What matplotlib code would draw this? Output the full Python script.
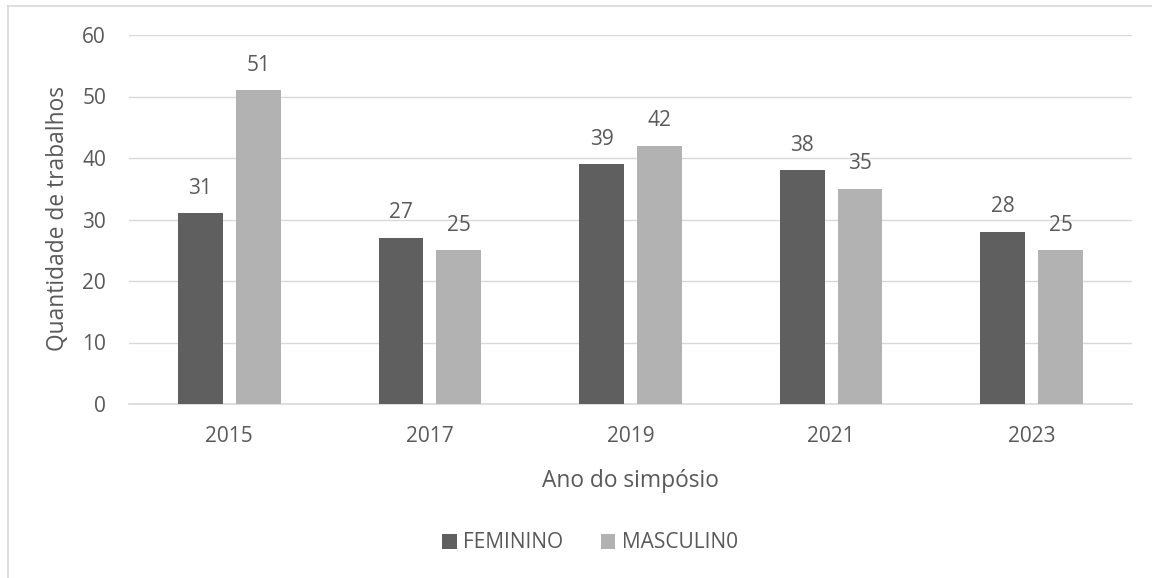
import matplotlib
matplotlib.use("Agg")
import matplotlib.pyplot as plt
import numpy as np

years = ["2015", "2017", "2019", "2021", "2023"]
feminino = [31, 27, 39, 38, 28]
masculino = [51, 25, 42, 35, 25]
series_names = ["FEMININO", "MASCULIN0"]

plt.rcParams['font.family'] = ['Open Sans', 'DejaVu Sans']
txt = '#595959'

fig = plt.figure(figsize=(11.52, 5.78), dpi=100)
W, H = 1152, 578
ax = fig.add_axes([129 / W, 1 - 404 / H, (1132 - 129) / W, (404 - 35) / H])

x = np.arange(len(years))
bw = 0.224
off = 0.144
b1 = ax.bar(x - off, feminino, bw, color='#5f5f5f', label=series_names[0], zorder=3)
b2 = ax.bar(x + off, masculino, bw, color='#b2b2b2', label=series_names[1], zorder=3)
for bars, vals in ((b1, feminino), (b2, masculino)):
    for r, v in zip(bars, vals):
        ax.annotate(str(v), (r.get_x() + r.get_width() / 2, v), xytext=(0, 18),
                    textcoords='offset points', ha='center', va='center',
                    fontsize=15, color=txt)

ax.set_xlim(-0.5, 4.5)
ax.set_ylim(0, 60)
ax.set_yticks(range(0, 61, 10))
ax.set_xticks(x)
ax.set_xticklabels(years)
ax.grid(axis='y', color='#d9d9d9', linewidth=1, zorder=0)
for s in ['top', 'right', 'left']:
    ax.spines[s].set_visible(False)
ax.spines['bottom'].set_color('#d9d9d9')
ax.spines['bottom'].set_linewidth(1.2)
ax.tick_params(length=0, labelsize=15, labelcolor=txt)
ax.tick_params(axis='y', pad=16.5)
ax.tick_params(axis='x', pad=16)
ax.set_axisbelow(True)

fig.text(58 / W, 1 - 219 / H, "Quantidade de trabalhos", rotation=90, ha='center', va='center',
         fontsize=16.4, color=txt)
fig.text(630 / W, 1 - 481 / H, "Ano do simpósio", ha='center', va='center',
         fontsize=16.4, color=txt)

leg = fig.legend(handles=[b1, b2], labels=series_names, loc='center', ncol=2,
                 bbox_to_anchor=(590 / W, 1 - 543 / H), frameon=False,
                 fontsize=15, handlelength=0.7, handleheight=0.7,
                 handletextpad=0.3, columnspacing=1.8)
for t in leg.get_texts():
    t.set_color(txt)

# outer chart border (left and top visible)
fig.add_artist(plt.Line2D([8 / W, 8 / W], [0, 1 - 6 / H], color='#d9d9d9', lw=1.2,
                          transform=fig.transFigure))
fig.add_artist(plt.Line2D([8 / W, 1], [1 - 6 / H, 1 - 6 / H], color='#d9d9d9', lw=1.2,
                          transform=fig.transFigure))

fig.savefig("out.png", dpi=100)
